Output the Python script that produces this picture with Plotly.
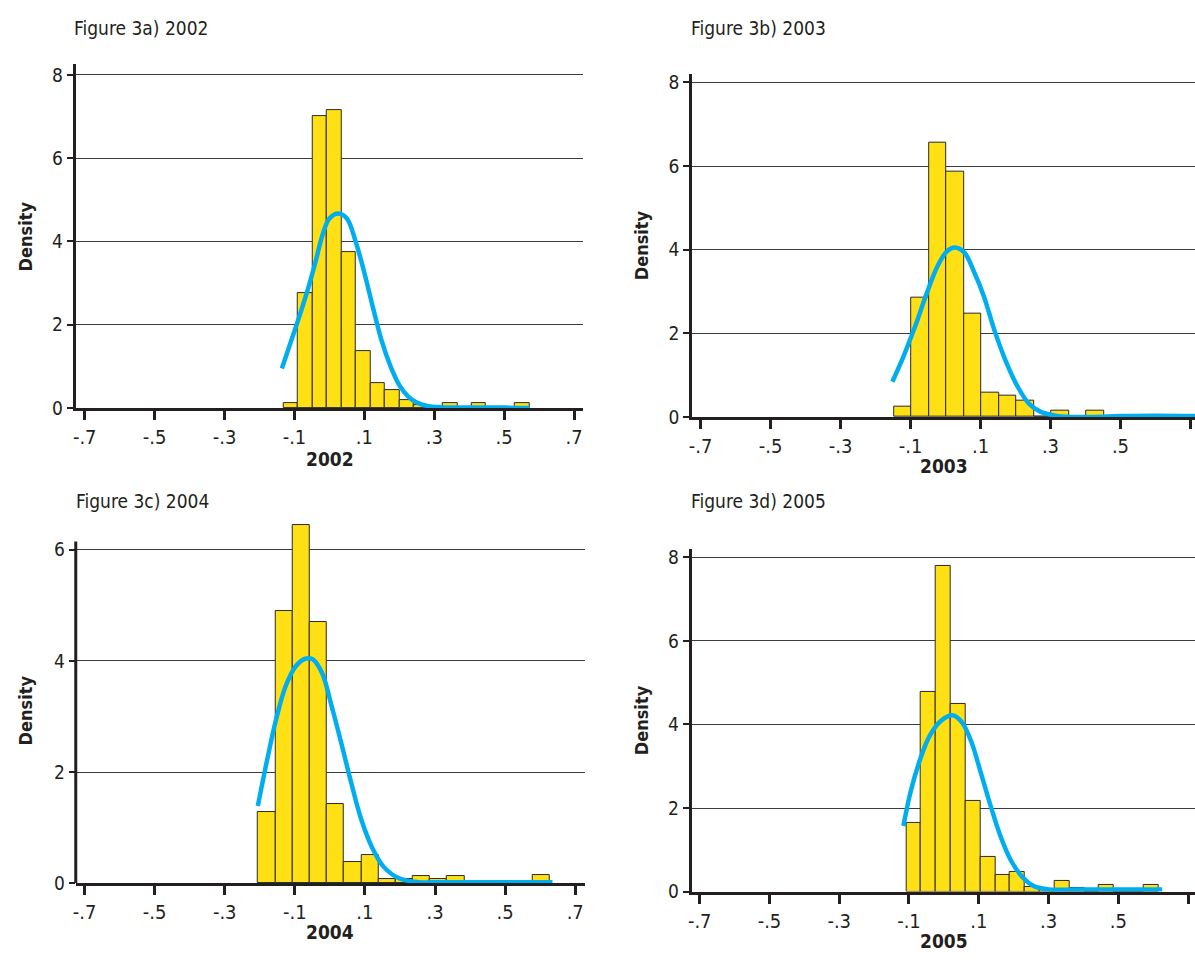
import plotly.graph_objects as go

# ---------------- data ----------------
years = ["2002", "2003", "2004", "2005"]
panel_titles = ["Figure 3a) 2002", "Figure 3b) 2003", "Figure 3c) 2004", "Figure 3d) 2005"]

x_tick_vals = [-0.7, -0.5, -0.3, -0.1, 0.1, 0.3, 0.5, 0.7]
x_tick_text = ["-.7", "-.5", "-.3", "-.1", ".1", ".3", ".5", ".7"]

# histogram bins (start of first bin, bin width) and densities
bin_start_2002 = -0.131
bin_width_2002 = 0.0414
density_2002 = [0.12, 2.75, 7.0, 7.15, 3.75, 1.36, 0.59, 0.44, 0.2, 0.07, 0.0, 0.13, 0.0, 0.13, 0.0, 0.0, 0.13]

bin_start_2003 = -0.147
bin_width_2003 = 0.05
density_2003 = [0.25, 2.86, 6.56, 5.86, 2.47, 0.57, 0.50, 0.38, 0.0, 0.14, 0.0, 0.14]

bin_start_2004 = -0.2044
bin_width_2004 = 0.049
density_2004 = [1.29, 4.89, 6.44, 4.70, 1.42, 0.38, 0.51, 0.08, 0.07, 0.135, 0.07, 0.135, 0.0, 0.0, 0.0, 0.0, 0.14]

bin_start_2005 = -0.1076
bin_width_2005 = 0.0425
density_2005 = [1.65, 4.78, 7.79, 4.50, 2.16, 0.84, 0.39, 0.47, 0.12, 0.04, 0.25, 0.08, 0.0, 0.16, 0.0, 0.0, 0.16]

# kernel density curves
kde_x_2002 = [-0.136, -0.11, -0.09, -0.06, -0.04, -0.02, 0.0, 0.025, 0.05, 0.075, 0.1, 0.125, 0.15, 0.175, 0.2, 0.225, 0.25, 0.28, 0.32, 0.4, 0.5, 0.573]
kde_y_2002 = [0.95, 1.6, 2.1, 2.9, 3.5, 4.15, 4.55, 4.67, 4.55, 4.0, 3.25, 2.4, 1.6, 1.0, 0.55, 0.28, 0.13, 0.05, 0.02, 0.01, 0.01, 0.0]

kde_x_2003 = [-0.152, -0.12, -0.087, -0.054, -0.022, 0.005, 0.027, 0.054, 0.082, 0.109, 0.141, 0.174, 0.207, 0.239, 0.272, 0.315, 0.36, 0.42, 0.5, 0.6, 0.725]
kde_y_2003 = [0.84, 1.45, 2.16, 2.95, 3.62, 3.97, 4.05, 3.93, 3.46, 2.9, 2.04, 1.30, 0.71, 0.31, 0.12, 0.03, 0.0, 0.0, 0.02, 0.03, 0.02]

kde_x_2004 = [-0.2055, -0.18, -0.153, -0.126, -0.098, -0.071, -0.049, -0.022, 0.005, 0.033, 0.06, 0.088, 0.12, 0.153, 0.197, 0.252, 0.32, 0.4, 0.5, 0.635]
kde_y_2004 = [1.39, 2.19, 2.96, 3.55, 3.90, 4.04, 4.03, 3.78, 3.19, 2.51, 1.83, 1.18, 0.65, 0.30, 0.09, 0.02, 0.02, 0.02, 0.02, 0.02]

kde_x_2005 = [-0.116, -0.095, -0.067, -0.040, -0.008, 0.025, 0.052, 0.079, 0.105, 0.133, 0.160, 0.192, 0.225, 0.258, 0.301, 0.377, 0.5, 0.626]
kde_y_2005 = [1.57, 2.40, 3.19, 3.74, 4.09, 4.22, 4.05, 3.58, 2.87, 2.08, 1.38, 0.75, 0.35, 0.13, 0.05, 0.05, 0.05, 0.05]

y_tick_sets = [[0, 2, 4, 6, 8], [0, 2, 4, 6, 8], [0, 2, 4, 6], [0, 2, 4, 6, 8]]

hist_data = [
    (bin_start_2002, bin_width_2002, density_2002, kde_x_2002, kde_y_2002),
    (bin_start_2003, bin_width_2003, density_2003, kde_x_2003, kde_y_2003),
    (bin_start_2004, bin_width_2004, density_2004, kde_x_2004, kde_y_2004),
    (bin_start_2005, bin_width_2005, density_2005, kde_x_2005, kde_y_2005),
]

# ---------------- layout geometry ----------------
W, H = 1195, 962
FONT = "Liberation Sans Narrow, DejaVu Sans Condensed, Arial Narrow, Roboto, sans-serif"
INK = "#231f20"
YELLOW = "#FFE014"
CYAN = "#00AEEF"


def px_x(v):
    return v / W


def px_y(v):
    return 1 - v / H


geom = [
    dict(xd=[px_x(72), px_x(581)], yd=[px_y(411), px_y(62)], xr=[-0.7257, 0.7257], yr=[0, 8.26], axtop=None),
    dict(xd=[px_x(690.5), 1.0], yd=[px_y(420), px_y(71.7)], xr=[-0.724, 0.713], yr=[0, 8.21], axtop=None),
    dict(xd=[px_x(72), px_x(583)], yd=[px_y(893.3), px_y(526.7)], xr=[-0.725, 0.728], yr=[0, 6.5], axtop=6.15),
    dict(xd=[px_x(690), 1.0], yd=[px_y(901.7), px_y(554)], xr=[-0.723, 0.72], yr=[0, 8.2], axtop=None),
]

title_pos = [(68, 25), (687, 25), (70, 505), (687, 505)]
density_pos = [(22, 237), (640, 246), (22, 718), (640, 728)]
xtitle_pos = [(327, 463), (943, 470), (327, 943), (943, 952)]

fig = go.Figure()
layout = dict(
    width=W, height=H,
    margin=dict(l=0, r=0, t=0, b=0),
    paper_bgcolor="white", plot_bgcolor="white",
    showlegend=False,
    font=dict(family=FONT, color=INK, size=18),
    bargap=0,
)
annotations = []
shapes = []

for i, (start, width, dens, kx, ky) in enumerate(hist_data):
    n = i + 1
    xa = "x" if n == 1 else f"x{n}"
    ya = "y" if n == 1 else f"y{n}"
    centers = [start + width * (k + 0.5) for k in range(len(dens))]
    fig.add_trace(go.Bar(
        x=centers, y=dens, width=[width] * len(dens),
        marker=dict(color=YELLOW, line=dict(color="#2a2a2a", width=1)),
        xaxis=xa, yaxis=ya, hoverinfo="x+y",
    ))
    fig.add_trace(go.Scatter(
        x=kx, y=ky, mode="lines",
        line=dict(color=CYAN, width=4.5, shape="spline", smoothing=1.0),
        xaxis=xa, yaxis=ya, cliponaxis=False,
    ))
    g = geom[i]
    xkey = "xaxis" if n == 1 else f"xaxis{n}"
    ykey = "yaxis" if n == 1 else f"yaxis{n}"
    layout[xkey] = dict(
        domain=g["xd"], range=g["xr"], anchor=ya,
        tickmode="array", tickvals=x_tick_vals, ticktext=x_tick_text,
        ticks="outside", ticklen=9, tickwidth=2.5, tickcolor=INK,
        showline=True, linecolor=INK, linewidth=3,
        showgrid=False, zeroline=False,
        tickfont=dict(family=FONT, size=20, color=INK),
        fixedrange=True,
    )
    layout[ykey] = dict(
        domain=g["yd"], range=g["yr"], anchor=xa,
        tickmode="array", tickvals=y_tick_sets[i],
        ticktext=[str(v) for v in y_tick_sets[i]],
        ticks="outside", ticklen=6, tickwidth=2, tickcolor=INK,
        showline=g["axtop"] is None, linecolor=INK, linewidth=3,
        showgrid=True, gridcolor="#3c3c3c", gridwidth=1.3,
        zeroline=False,
        tickfont=dict(family=FONT, size=19, color=INK),
        fixedrange=True,
    )
    if g["axtop"] is not None:
        shapes.append(dict(type="line", xref=f"{xa} domain", yref=ya,
                           x0=0, x1=0, y0=0, y1=g["axtop"],
                           line=dict(color=INK, width=3), layer="above"))
    tx, ty = title_pos[i]
    annotations.append(dict(text=panel_titles[i], x=px_x(tx), y=px_y(ty), xref="paper", yref="paper",
                            xanchor="left", yanchor="middle", showarrow=False,
                            font=dict(family=FONT, size=19, color=INK)))
    dx, dy = density_pos[i]
    annotations.append(dict(text="<b>Density</b>", x=px_x(dx), y=px_y(dy), xref="paper", yref="paper",
                            xanchor="center", yanchor="middle", showarrow=False, textangle=-90,
                            font=dict(family=FONT, size=18, color=INK)))
    yx, yy = xtitle_pos[i]
    annotations.append(dict(text=f"<b>{years[i]}</b>", x=px_x(yx), y=px_y(yy), xref="paper", yref="paper",
                            xanchor="center", yanchor="middle", showarrow=False,
                            font=dict(family=FONT, size=19, color=INK)))

layout["annotations"] = annotations
layout["shapes"] = shapes
fig.update_layout(**layout)

# remove the browser's default page margin so the figure sits at the window origin
pin_js = (
    "document.documentElement.style.margin='0';document.documentElement.style.overflow='hidden';"
    "document.body.style.margin='0';document.body.style.overflow='hidden';"
    "var gd=document.getElementById('{plot_id}');"
    "gd.style.position='fixed';gd.style.top='0px';gd.style.left='0px';"
)
fig.write_html("out.html", config={"displayModeBar": False}, post_script=pin_js)
